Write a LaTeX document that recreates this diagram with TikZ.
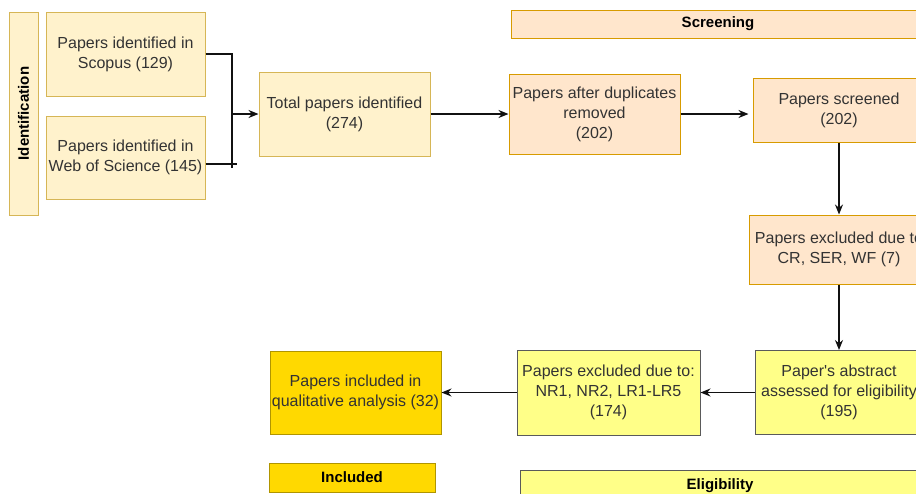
\documentclass[tikz,border=0pt]{standalone}
\usepackage{fontspec}
\setmainfont{Liberation Sans}
\usetikzlibrary{arrows.meta,positioning}
\definecolor{idfill}{HTML}{FFF2CC}
\definecolor{idline}{HTML}{D6B656}
\definecolor{scrfill}{HTML}{FFE6CC}
\definecolor{scrline}{HTML}{D79B00}
\definecolor{elifill}{HTML}{FFFF88}
\definecolor{eliline}{HTML}{5A5A5A}
\definecolor{incfill}{HTML}{FFD900}
\definecolor{incline}{HTML}{B09500}
\definecolor{txtgray}{HTML}{333333}
\definecolor{linegray}{HTML}{111111}

\begin{document}
\begin{tikzpicture}[x=1pt,y=-1pt,
    box/.style={draw, line width=1pt, align=center, text=txtgray, inner sep=0pt,
      font=\fontsize{16}{20}\selectfont},
    idbox/.style={box, fill=idfill, draw=idline},
    scrbox/.style={box, fill=scrfill, draw=scrline},
    elibox/.style={box, fill=elifill, draw=eliline},
    incbox/.style={box, fill=incfill, draw=incline},
    phase/.style={font=\bfseries\fontsize{15}{18}\selectfont, text=black},
    link/.style={line width=1.3pt, draw=linegray},
    arr/.style={link, -{Stealth[length=10pt,width=8pt]}}]
  \useasboundingbox (0,0) rectangle (916,493);
  \clip (0,0) rectangle (916,493);
  % phase bars
  \node[idbox, phase, rotate=90, minimum width=203pt, minimum height=29pt] (idbar) at (23.5,113.5) {Identification};
  \node[scrbox, phase, minimum width=414pt, minimum height=28pt] (screenbar) at (718,24) {Screening};
  \node[incbox, phase, minimum width=166pt, minimum height=29pt] (inclbar) at (352,477.5) {Included};
  \node[elibox, phase, minimum width=400pt, minimum height=32pt] (eligbar) at (720,486) {Eligibility};
  % identification
  \node[idbox, minimum width=159pt, minimum height=84pt] (scopus) at (125.5,54) {Papers identified in\\Scopus (129)};
  \node[idbox, minimum width=159pt, minimum height=83pt] (wos) at (125.5,157.5) {Papers identified in\\Web of Science (145)};
  \node[idbox, minimum width=171pt, minimum height=84pt] (total) at (344.5,114) {Total papers identified\\(274)};
  % screening
  \node[scrbox, minimum width=171pt, minimum height=80pt] (dupl) at (594.5,114) {Papers after duplicates\\removed\\(202)};
  \node[scrbox, minimum width=172pt, minimum height=64pt] (screened) at (839,110) {Papers screened\\(202)};
  \node[scrbox, minimum width=180pt, minimum height=69pt] (excl) at (839,249.5) {Papers excluded due to\\CR, SER, WF (7)};
  % eligibility
  \node[elibox, minimum width=168pt, minimum height=84pt] (abstract) at (839,392.5) {Paper\textquotesingle s abstract\\assessed for eligibility\\(195)};
  \node[elibox, minimum width=183pt, minimum height=85pt] (exclelig) at (608.5,392.5) {Papers excluded due to:\\NR1, NR2, LR1-LR5\\(174)};
  \node[incbox, minimum width=171pt, minimum height=83pt] (included) at (355.5,392.5) {Papers included in\\qualitative analysis (32)};
  % connectors
  \coordinate (join) at (232,114);
  \coordinate (jbot) at (232,168);
  \coordinate (wtip) at (237,164);
  \draw[link] (scopus.east) -| (jbot);
  \draw[link] (wos.east |- wtip) -- (wtip);
  \draw[arr] (join) -- (total.west);
  \draw[arr] (total) -- (dupl);
  \draw[arr] (dupl) -- ([xshift=-4pt]dupl -| screened.west);
  \draw[arr] (screened) -- (excl);
  \draw[arr] (excl) -- (abstract);
  \draw[arr] (abstract) -- (exclelig);
  \draw[arr] (exclelig) -- (included);
\end{tikzpicture}
\end{document}
